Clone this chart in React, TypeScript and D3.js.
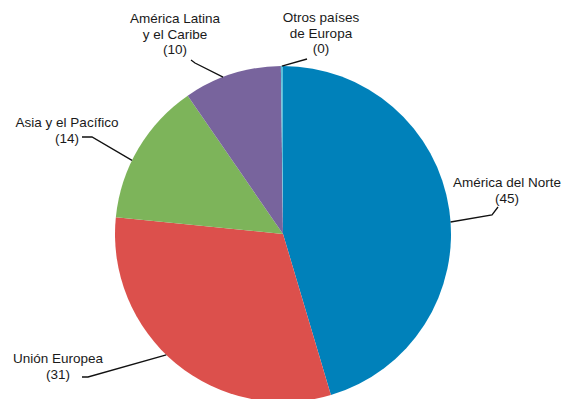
import React from "react";
import * as d3 from "d3";

const regions = ["América del Norte", "Unión Europea", "Asia y el Pacífico", "América Latina y el Caribe", "Otros países de Europa"];
const values = [45.4, 31.2, 13.8, 9.4, 0.2];
const shownValues = [45, 31, 14, 10, 0];
const colors = ["#0081BA", "#DC504C", "#7DB45A", "#78649D", "#5CC0DA"];

// label layout: text lines, text anchor point, leader polyline start angle & bends
const labelLayout = [
  { lines: ["América del Norte", "(45)"], x: 507, y: 187, startAngle: 85.9, bends: [[492, 215], [498, 207]] },
  { lines: ["Unión Europea", "(31)"], x: 58, y: 363, startAngle: 224, bends: [[88, 377], [82, 377]] },
  { lines: ["Asia y el Pacífico", "(14)"], x: 67, y: 127, startAngle: 296, bends: [[92, 137], [82, 137]] },
  { lines: ["América Latina", "y el Caribe", "(10)"], x: 175, y: 23, startAngle: 339.1, bends: [[195, 63], [191, 60]] },
  { lines: ["Otros países", "de Europa", "(0)"], x: 321, y: 22, startAngle: 359.6, bends: [[307, 59]] },
];

const W = 564, H = 399;
const cx = 283, cy = 234, R = 168;

export default function App() {
  const pie = d3.pie<number>().sort(null).value((d) => d)(values);
  const arc = d3.arc<d3.PieArcDatum<number>>().innerRadius(0).outerRadius(R);
  const line = d3.line();
  return (
    <svg width={W} height={H} style={{ position: "absolute", left: 0, top: 0, fontFamily: "'Liberation Sans', Arial, sans-serif" }}>
      <g transform={`translate(${cx},${cy})`}>
        {pie.map((p, i) => (
          <path key={regions[i]} d={arc(p) || ""} fill={colors[i]} />
        ))}
      </g>
      {labelLayout.map((l, i) => {
        const a = (l.startAngle * Math.PI) / 180;
        const start: [number, number] = [cx + R * Math.sin(a), cy - R * Math.cos(a)];
        const pts = [start, ...(l.bends as [number, number][])];
        return (
          <g key={i}>
            <path d={line(pts) || ""} fill="none" stroke="#111" strokeWidth={1.3} />
            <text x={l.x} y={l.y} textAnchor="middle" fontSize={13.5} fill="#1a1a1a">
              {l.lines.map((t, j) => (
                <tspan key={j} x={l.x} dy={j === 0 ? 0 : 15.5}>
                  {j === l.lines.length - 1 ? `(${shownValues[i]})` : t}
                </tspan>
              ))}
            </text>
          </g>
        );
      })}
    </svg>
  );
}
